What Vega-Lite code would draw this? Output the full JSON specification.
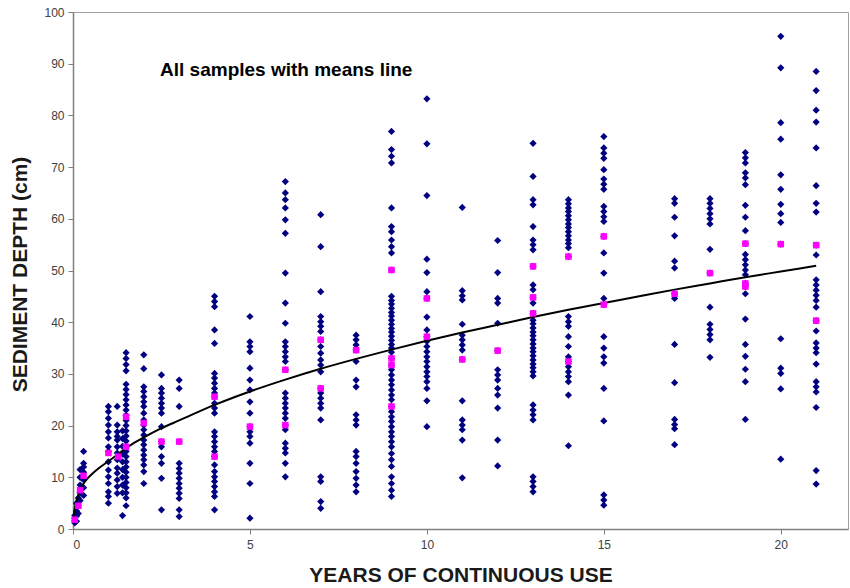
{
  "$schema": "https://vega.github.io/schema/vega-lite/v6.json",
  "width": 775,
  "height": 517,
  "autosize": {"type": "none"},
  "padding": {"left": 73, "top": 12, "right": 2, "bottom": 59},
  "background": "white",
  "config": {"view": {"stroke": "#a0a0a0", "strokeWidth": 1}, "font": "Liberation Sans"},
  "datasets": {
    "samples": [
      {"x":0.05,"y":1.2},{"x":0.05,"y":1.6},{"x":0.05,"y":2.1},{"x":0.05,"y":2.6},
      {"x":0.1,"y":1.5},{"x":0.1,"y":2.5},{"x":0.1,"y":3.5},{"x":0.1,"y":5.0},
      {"x":0.15,"y":3},{"x":0.15,"y":4.5},{"x":0.15,"y":6},
      {"x":0.2,"y":5.5},{"x":0.2,"y":7},{"x":0.2,"y":8.5},{"x":0.2,"y":10},{"x":0.2,"y":11.5},
      {"x":0.3,"y":6.5},{"x":0.3,"y":8},{"x":0.3,"y":9.5},{"x":0.3,"y":11},{"x":0.3,"y":12},{"x":0.3,"y":12.7},{"x":0.3,"y":15},
      {"x":1,"y":23.7},{"x":1,"y":22.7},{"x":1,"y":21.4},{"x":1,"y":20.1},{"x":1,"y":18.8},{"x":1,"y":17.6},{"x":1,"y":15.9},{"x":1,"y":15.0},{"x":1,"y":13.0},{"x":1,"y":11.4},{"x":1,"y":10.1},{"x":1,"y":8.8},{"x":1,"y":7.2},{"x":1,"y":6.3},{"x":1,"y":5.0},
      {"x":1.25,"y":23.7},{"x":1.25,"y":20.1},{"x":1.25,"y":18.8},{"x":1.25,"y":17.9},{"x":1.25,"y":17.2},{"x":1.25,"y":15.9},{"x":1.25,"y":14.7},{"x":1.25,"y":13.4},{"x":1.25,"y":11.8},{"x":1.25,"y":10.8},{"x":1.25,"y":9.5},{"x":1.25,"y":8.2},{"x":1.25,"y":6.9},
      {"x":1.4,"y":19},{"x":1.4,"y":17.5},{"x":1.4,"y":16},{"x":1.4,"y":14.5},{"x":1.4,"y":13},{"x":1.4,"y":11.5},{"x":1.4,"y":10},{"x":1.4,"y":8.5},{"x":1.4,"y":7},{"x":1.4,"y":2.6},
      {"x":1.5,"y":34.1},{"x":1.5,"y":33.0},{"x":1.5,"y":31.8},{"x":1.5,"y":30.6},{"x":1.5,"y":28.0},{"x":1.5,"y":27.0},{"x":1.5,"y":26.0},{"x":1.5,"y":25.0},{"x":1.5,"y":24.0},{"x":1.5,"y":23.0},{"x":1.5,"y":22.0},{"x":1.5,"y":21.0},{"x":1.5,"y":20.0},{"x":1.5,"y":19.0},{"x":1.5,"y":18.0},{"x":1.5,"y":17.0},{"x":1.5,"y":16.0},{"x":1.5,"y":15.0},{"x":1.5,"y":14.0},{"x":1.5,"y":13.0},{"x":1.5,"y":12.0},{"x":1.5,"y":11.0},{"x":1.5,"y":10.0},{"x":1.5,"y":9.0},{"x":1.5,"y":8.0},{"x":1.5,"y":7.0},{"x":1.5,"y":6.0},{"x":1.5,"y":4.5},
      {"x":2,"y":33.7},{"x":2,"y":31.0},{"x":2,"y":27.5},{"x":2,"y":26.6},{"x":2,"y":25.6},{"x":2,"y":24.6},{"x":2,"y":23.7},{"x":2,"y":22.4},{"x":2,"y":21.1},{"x":2,"y":20.1},{"x":2,"y":19.2},{"x":2,"y":18.2},{"x":2,"y":17.2},{"x":2,"y":16.3},{"x":2,"y":15.3},{"x":2,"y":14.3},{"x":2,"y":13.4},{"x":2,"y":12.4},{"x":2,"y":11.1},{"x":2,"y":8.8},
      {"x":2.5,"y":29.8},{"x":2.5,"y":27.2},{"x":2.5,"y":26.3},{"x":2.5,"y":25.3},{"x":2.5,"y":24.3},{"x":2.5,"y":23.4},{"x":2.5,"y":22.4},{"x":2.5,"y":19.8},{"x":2.5,"y":16.9},{"x":2.5,"y":15.9},{"x":2.5,"y":14.0},{"x":2.5,"y":12.7},{"x":2.5,"y":9.8},{"x":2.5,"y":3.7},
      {"x":3,"y":28.8},{"x":3,"y":27.2},{"x":3,"y":23.7},{"x":3,"y":16.9},{"x":3,"y":12.7},{"x":3,"y":11.7},{"x":3,"y":10.8},{"x":3,"y":9.8},{"x":3,"y":8.8},{"x":3,"y":7.9},{"x":3,"y":6.9},{"x":3,"y":5.9},{"x":3,"y":3.7},{"x":3,"y":2.4},
      {"x":4,"y":45},{"x":4,"y":44},{"x":4,"y":43},{"x":4,"y":38.5},{"x":4,"y":35.9},{"x":4,"y":30.1},{"x":4,"y":29.2},{"x":4,"y":28.2},{"x":4,"y":27.2},{"x":4,"y":26.3},{"x":4,"y":25.6},{"x":4,"y":24.3},{"x":4,"y":23.4},{"x":4,"y":22.4},{"x":4,"y":18.8},{"x":4,"y":17.9},{"x":4,"y":16.9},{"x":4,"y":15.9},{"x":4,"y":15.0},{"x":4,"y":14.0},{"x":4,"y":12.4},{"x":4,"y":11.1},{"x":4,"y":10.1},{"x":4,"y":9.2},{"x":4,"y":8.2},{"x":4,"y":7.2},{"x":4,"y":6.3},{"x":4,"y":3.7},
      {"x":5,"y":41.1},{"x":5,"y":36.2},{"x":5,"y":35.3},{"x":5,"y":34.3},{"x":5,"y":31.1},{"x":5,"y":28.8},{"x":5,"y":26.9},{"x":5,"y":24.6},{"x":5,"y":22.4},{"x":5,"y":19.8},{"x":5,"y":18.8},{"x":5,"y":17.9},{"x":5,"y":16.6},{"x":5,"y":12.7},{"x":5,"y":8.8},{"x":5,"y":2.1},
      {"x":6,"y":67.2},{"x":6,"y":65},{"x":6,"y":63.7},{"x":6,"y":62.1},{"x":6,"y":59.8},{"x":6,"y":57.2},{"x":6,"y":49.5},{"x":6,"y":43.7},{"x":6,"y":39.8},{"x":6,"y":36.2},{"x":6,"y":35.3},{"x":6,"y":34.3},{"x":6,"y":33.3},{"x":6,"y":32.4},{"x":6,"y":30.8},{"x":6,"y":26.3},{"x":6,"y":25.3},{"x":6,"y":24.3},{"x":6,"y":23.4},{"x":6,"y":22.4},{"x":6,"y":21.4},{"x":6,"y":20.1},{"x":6,"y":19.2},{"x":6,"y":16.6},{"x":6,"y":15.6},{"x":6,"y":14.7},{"x":6,"y":12.7},{"x":6,"y":10.1},
      {"x":7,"y":60.8},{"x":7,"y":54.6},{"x":7,"y":45.9},{"x":7,"y":41.1},{"x":7,"y":40.1},{"x":7,"y":39.2},{"x":7,"y":38.2},{"x":7,"y":36.6},{"x":7,"y":35.3},{"x":7,"y":34.0},{"x":7,"y":32.7},{"x":7,"y":31.7},{"x":7,"y":30.4},{"x":7,"y":27.2},{"x":7,"y":26.3},{"x":7,"y":25.3},{"x":7,"y":24.3},{"x":7,"y":23.4},{"x":7,"y":21.1},{"x":7,"y":10.1},{"x":7,"y":9.2},{"x":7,"y":5.3},{"x":7,"y":4.0},
      {"x":8,"y":37.5},{"x":8,"y":36.6},{"x":8,"y":35.6},{"x":8,"y":34.6},{"x":8,"y":32.4},{"x":8,"y":28.8},{"x":8,"y":27.5},{"x":8,"y":22.1},{"x":8,"y":21.1},{"x":8,"y":20.1},{"x":8,"y":15.0},{"x":8,"y":14.0},{"x":8,"y":12.7},{"x":8,"y":11.1},{"x":8,"y":9.8},{"x":8,"y":8.5},{"x":8,"y":7.2},
      {"x":9,"y":76.9},{"x":9,"y":73.4},{"x":9,"y":72.1},{"x":9,"y":70.8},{"x":9,"y":62.1},{"x":9,"y":58.5},{"x":9,"y":57.5},{"x":9,"y":55.9},{"x":9,"y":54.6},{"x":9,"y":53.4},{"x":9,"y":50.1},{"x":9,"y":45.0},{"x":9,"y":44.2},{"x":9,"y":43.5},{"x":9,"y":42.7},{"x":9,"y":41.9},{"x":9,"y":41.2},{"x":9,"y":40.4},{"x":9,"y":39.6},{"x":9,"y":38.8},{"x":9,"y":38.1},{"x":9,"y":37.3},{"x":9,"y":36.5},{"x":9,"y":35.7},{"x":9,"y":35.0},{"x":9,"y":34.2},{"x":9,"y":33.0},{"x":9,"y":31.7},{"x":9,"y":30.8},{"x":9,"y":29.8},{"x":9,"y":28.8},{"x":9,"y":27.9},{"x":9,"y":26.9},{"x":9,"y":25.9},{"x":9,"y":25.0},{"x":9,"y":23.7},{"x":9,"y":22.7},{"x":9,"y":21.7},{"x":9,"y":20.8},{"x":9,"y":19.8},{"x":9,"y":18.8},{"x":9,"y":17.9},{"x":9,"y":16.9},{"x":9,"y":15.9},{"x":9,"y":14.6},{"x":9,"y":13.4},{"x":9,"y":12.1},{"x":9,"y":10.1},{"x":9,"y":8.8},{"x":9,"y":7.5},{"x":9,"y":6.3},
      {"x":10,"y":83.2},{"x":10,"y":74.5},{"x":10,"y":64.5},{"x":10,"y":52.2},{"x":10,"y":49.6},{"x":10,"y":45.9},{"x":10,"y":44.6},{"x":10,"y":41.0},{"x":10,"y":38.5},{"x":10,"y":37.2},{"x":10,"y":36.3},{"x":10,"y":35.3},{"x":10,"y":34.3},{"x":10,"y":33.3},{"x":10,"y":32.4},{"x":10,"y":31.4},{"x":10,"y":30.4},{"x":10,"y":29.5},{"x":10,"y":28.5},{"x":10,"y":27.2},{"x":10,"y":24.8},{"x":10,"y":19.8},
      {"x":11,"y":62.2},{"x":11,"y":46.1},{"x":11,"y":45.1},{"x":11,"y":44.3},{"x":11,"y":39.6},{"x":11,"y":37.5},{"x":11,"y":36.6},{"x":11,"y":35.6},{"x":11,"y":34.6},{"x":11,"y":32.8},{"x":11,"y":24.8},{"x":11,"y":21.1},{"x":11,"y":20.1},{"x":11,"y":19.2},{"x":11,"y":17.2},{"x":11,"y":9.9},
      {"x":12,"y":55.8},{"x":12,"y":49.6},{"x":12,"y":44.6},{"x":12,"y":43.7},{"x":12,"y":39.8},{"x":12,"y":34.5},{"x":12,"y":30.8},{"x":12,"y":29.8},{"x":12,"y":28.8},{"x":12,"y":27.2},{"x":12,"y":25.9},{"x":12,"y":23.4},{"x":12,"y":17.2},{"x":12,"y":12.2},
      {"x":13,"y":74.6},{"x":13,"y":68.2},{"x":13,"y":63.7},{"x":13,"y":62.7},{"x":13,"y":58.5},{"x":13,"y":55.9},{"x":13,"y":55.0},{"x":13,"y":54.0},{"x":13,"y":50.8},{"x":13,"y":47.2},{"x":13,"y":46.3},{"x":13,"y":44.8},{"x":13,"y":43.7},{"x":13,"y":41.7},{"x":13,"y":40.4},{"x":13,"y":39.7},{"x":13,"y":38.9},{"x":13,"y":38.1},{"x":13,"y":37.4},{"x":13,"y":36.6},{"x":13,"y":35.8},{"x":13,"y":35.0},{"x":13,"y":34.3},{"x":13,"y":33.5},{"x":13,"y":32.7},{"x":13,"y":31.9},{"x":13,"y":31.2},{"x":13,"y":30.4},{"x":13,"y":29.6},{"x":13,"y":24.0},{"x":13,"y":23.0},{"x":13,"y":22.1},{"x":13,"y":21.1},{"x":13,"y":10.1},{"x":13,"y":9.2},{"x":13,"y":8.2},{"x":13,"y":7.2},
      {"x":14,"y":63.7},{"x":14,"y":62.9},{"x":14,"y":62.1},{"x":14,"y":61.4},{"x":14,"y":60.6},{"x":14,"y":59.8},{"x":14,"y":59.0},{"x":14,"y":58.3},{"x":14,"y":57.5},{"x":14,"y":56.7},{"x":14,"y":55.9},{"x":14,"y":55.2},{"x":14,"y":54.4},{"x":14,"y":52.7},{"x":14,"y":41.1},{"x":14,"y":40.1},{"x":14,"y":39.2},{"x":14,"y":37.2},{"x":14,"y":35.3},{"x":14,"y":33.3},{"x":14,"y":32.4},{"x":14,"y":31.4},{"x":14,"y":30.4},{"x":14,"y":29.5},{"x":14,"y":28.5},{"x":14,"y":25.9},{"x":14,"y":16.1},
      {"x":15,"y":75.9},{"x":15,"y":73.7},{"x":15,"y":72.7},{"x":15,"y":71.7},{"x":15,"y":69.5},{"x":15,"y":67.7},{"x":15,"y":66.7},{"x":15,"y":65.7},{"x":15,"y":62.4},{"x":15,"y":61.4},{"x":15,"y":60.4},{"x":15,"y":59.5},{"x":15,"y":56.6},{"x":15,"y":53.4},{"x":15,"y":49.5},{"x":15,"y":44.6},{"x":15,"y":43.4},{"x":15,"y":37.2},{"x":15,"y":35.0},{"x":15,"y":33.3},{"x":15,"y":32.1},{"x":15,"y":27.2},{"x":15,"y":20.9},{"x":15,"y":6.6},{"x":15,"y":5.6},{"x":15,"y":4.6},
      {"x":17,"y":63.9},{"x":17,"y":63.0},{"x":17,"y":60.3},{"x":17,"y":56.7},{"x":17,"y":51.8},{"x":17,"y":50.5},{"x":17,"y":45.5},{"x":17,"y":44.6},{"x":17,"y":35.7},{"x":17,"y":28.3},{"x":17,"y":21.2},{"x":17,"y":20.2},{"x":17,"y":19.4},{"x":17,"y":16.3},
      {"x":18,"y":63.9},{"x":18,"y":63.0},{"x":18,"y":62.0},{"x":18,"y":61.0},{"x":18,"y":60.0},{"x":18,"y":59.0},{"x":18,"y":54.1},{"x":18,"y":49.5},{"x":18,"y":42.9},{"x":18,"y":39.6},{"x":18,"y":38.6},{"x":18,"y":37.6},{"x":18,"y":36.6},{"x":18,"y":33.2},
      {"x":19,"y":72.8},{"x":19,"y":71.8},{"x":19,"y":70.8},{"x":19,"y":68.9},{"x":19,"y":67.9},{"x":19,"y":66.6},{"x":19,"y":62.6},{"x":19,"y":60.3},{"x":19,"y":57.7},{"x":19,"y":55.2},{"x":19,"y":53.1},{"x":19,"y":52.1},{"x":19,"y":51.1},{"x":19,"y":50.1},{"x":19,"y":49.2},{"x":19,"y":47.5},{"x":19,"y":46.9},{"x":19,"y":45.5},{"x":19,"y":40.6},{"x":19,"y":35.7},{"x":19,"y":33.4},{"x":19,"y":30.9},{"x":19,"y":28.5},{"x":19,"y":21.2},
      {"x":20,"y":95.3},{"x":20,"y":89.2},{"x":20,"y":78.6},{"x":20,"y":75.4},{"x":20,"y":68.5},{"x":20,"y":65.7},{"x":20,"y":62.8},{"x":20,"y":61.0},{"x":20,"y":59.3},{"x":20,"y":55.1},{"x":20,"y":36.8},{"x":20,"y":31.1},{"x":20,"y":30.1},{"x":20,"y":27.1},{"x":20,"y":13.5},
      {"x":21,"y":88.5},{"x":21,"y":84.8},{"x":21,"y":81.0},{"x":21,"y":78.7},{"x":21,"y":73.7},{"x":21,"y":66.4},{"x":21,"y":63.0},{"x":21,"y":61.3},{"x":21,"y":54.9},{"x":21,"y":53.0},{"x":21,"y":48.2},{"x":21,"y":47.2},{"x":21,"y":46.2},{"x":21,"y":45.2},{"x":21,"y":44.2},{"x":21,"y":42.9},{"x":21,"y":40.3},{"x":21,"y":38.3},{"x":21,"y":36.0},{"x":21,"y":35.0},{"x":21,"y":34.1},{"x":21,"y":31.9},{"x":21,"y":28.5},{"x":21,"y":27.5},{"x":21,"y":26.5},{"x":21,"y":23.5},{"x":21,"y":11.3},{"x":21,"y":8.7}
    ],
    "means": [
      {"x":0.05,"y":1.8},{"x":0.15,"y":4.5},{"x":0.2,"y":7.5},{"x":0.3,"y":10.3},
      {"x":1.0,"y":14.7},{"x":1.28,"y":14.0},{"x":1.5,"y":15.9},{"x":1.5,"y":21.7},
      {"x":2,"y":20.5},{"x":2.5,"y":16.9},{"x":3,"y":16.9},{"x":4,"y":25.6},{"x":4,"y":14.0},
      {"x":5,"y":19.8},{"x":6,"y":30.8},{"x":6,"y":20.1},{"x":7,"y":36.6},{"x":7,"y":27.2},
      {"x":8,"y":34.6},{"x":9,"y":50.1},{"x":9,"y":33.0},{"x":9,"y":31.7},{"x":9,"y":23.7},
      {"x":10,"y":44.6},{"x":10,"y":37.2},{"x":11,"y":32.8},{"x":12,"y":34.5},
      {"x":13,"y":50.8},{"x":13,"y":44.8},{"x":13,"y":41.7},{"x":14,"y":52.7},{"x":14,"y":32.4},
      {"x":15,"y":56.6},{"x":15,"y":43.4},{"x":17,"y":45.5},{"x":18,"y":49.5},
      {"x":19,"y":55.2},{"x":19,"y":47.5},{"x":19,"y":46.9},{"x":20,"y":55.1},{"x":21,"y":54.9},{"x":21,"y":40.3}
    ],
    "curve": [
      {"x":0.01,"y":1.6},{"x":0.03,"y":3.0},{"x":0.06,"y":4.3},{"x":0.1,"y":5.5},{"x":0.15,"y":6.6},{"x":0.2,"y":7.5},{"x":0.3,"y":8.8},{"x":0.4,"y":9.7},{"x":0.5,"y":10.4},{"x":0.7,"y":11.6},{"x":1,"y":13.1},{"x":1.3,"y":14.6},{"x":1.6,"y":16.1},{"x":2,"y":17.7},{"x":2.5,"y":19.5},{"x":3,"y":21.0},{"x":4,"y":24.0},{"x":5,"y":26.6},{"x":6,"y":28.9},{"x":7,"y":31.0},{"x":8,"y":32.9},{"x":9,"y":34.7},{"x":10,"y":36.4},{"x":11,"y":38.0},{"x":12,"y":39.5},{"x":13,"y":41.0},{"x":14,"y":42.4},{"x":15,"y":43.7},{"x":16,"y":45.0},{"x":17,"y":46.3},{"x":18,"y":47.5},{"x":19,"y":48.7},{"x":20,"y":49.8},{"x":21,"y":50.9}
    ],
    "note": [{"x":2.46,"y":87.6,"label":"All samples with means line"}]
  },
  "encoding": {
    "x": {
      "field": "x", "type": "quantitative",
      "scale": {"domain": [0, 21.9], "nice": false, "zero": false},
      "axis": {
        "values": [0, 5, 10, 15, 20], "grid": false,
        "title": "YEARS OF CONTINUOUS USE",
        "domainColor": "#808080", "domainWidth": 1.5,
        "tickColor": "#808080", "tickSize": 5,
        "labelFontSize": 12, "labelColor": "#404040", "labelPadding": 5, "labelFont": "Liberation Sans",
        "titleFontSize": 21, "titleFontWeight": "bold", "titleColor": "#1a1a1a", "titleFont": "Liberation Sans",
        "titlePadding": 14
      }
    },
    "y": {
      "field": "y", "type": "quantitative",
      "scale": {"domain": [0, 100], "nice": false, "zero": true},
      "axis": {
        "values": [0, 10, 20, 30, 40, 50, 60, 70, 80, 90, 100], "grid": false,
        "title": "SEDIMENT DEPTH (cm)",
        "domainColor": "#808080", "domainWidth": 1.5,
        "tickColor": "#808080", "tickSize": 5,
        "labelFontSize": 12, "labelColor": "#404040", "labelPadding": 4, "labelFont": "Liberation Sans",
        "titleFontSize": 21, "titleFontWeight": "bold", "titleColor": "#1a1a1a", "titleFont": "Liberation Sans",
        "titleX": -53, "titleY": 262, "titleAlign": "center", "titleBaseline": "middle", "titleAngle": -90
      }
    }
  },
  "layer": [
    {"data": {"name": "samples"}, "mark": {"type": "point", "shape": "diamond", "filled": true, "size": 52, "color": "#000080", "opacity": 1, "strokeWidth": 0}},
    {"data": {"name": "curve"}, "mark": {"type": "line", "color": "#000000", "strokeWidth": 2, "interpolate": "monotone"}},
    {"data": {"name": "means"}, "mark": {"type": "square", "filled": true, "size": 42, "color": "#ff00ff", "opacity": 1}},
    {"data": {"name": "note"}, "mark": {"type": "text", "align": "left", "baseline": "alphabetic", "fontSize": 19, "fontWeight": "bold", "color": "#000000", "font": "Liberation Sans"}, "encoding": {"text": {"field": "label"}}}
  ]
}
